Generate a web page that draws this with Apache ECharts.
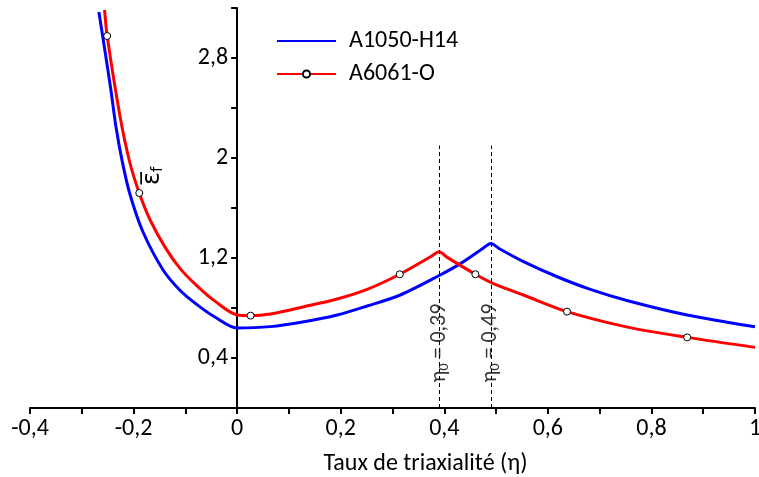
<!DOCTYPE html>
<html>
<head>
<meta charset="utf-8">
<script src="https://cdn.jsdelivr.net/npm/echarts@6/dist/echarts.min.js"></script>
<style>
  html, body { margin: 0; padding: 0; background: #fff; }
  #chart { width: 759px; height: 477px; }
</style>
</head>
<body>
<div id="chart"></div>
<script>
// A1050-H14 (blue)
var blueX = [-0.267, -0.255, -0.244, -0.234, -0.222, -0.207, -0.182, -0.143, -0.11, -0.077, -0.043, 0,
             0.064, 0.129, 0.193, 0.251, 0.315, 0.392, 0.431, 0.475, 0.49, 0.505,
             0.553, 0.618, 0.682, 0.756, 0.869, 1.0];
var blueY = [3.168, 2.85, 2.55, 2.25, 1.975, 1.71, 1.41, 1.104, 0.94, 0.825, 0.728, 0.64,
             0.651, 0.69, 0.744, 0.816, 0.904, 1.064, 1.155, 1.278, 1.317, 1.278,
             1.171, 1.05, 0.949, 0.856, 0.744, 0.65];
// A6061-O (red)
var redX = [-0.256, -0.251, -0.226, -0.207, -0.189, -0.168, -0.139, -0.11, -0.077, -0.043, 0,
            0.026, 0.064, 0.129, 0.193, 0.251, 0.314, 0.375, 0.39, 0.405,
            0.46, 0.495, 0.553, 0.637, 0.756, 0.869, 1.0];
var redY = [3.184, 2.976, 2.33, 1.96, 1.72, 1.504, 1.285, 1.115, 0.975, 0.855, 0.744,
            0.739, 0.752, 0.81, 0.872, 0.949, 1.07, 1.214, 1.25, 1.207,
            1.07, 0.995, 0.904, 0.771, 0.645, 0.565, 0.485];
// indices of red points drawn with a circle marker
var redMarkers = [1, 4, 11, 16, 20, 23, 25];

var eta0 = [0.39, 0.49];
var eta0Text = ['0,39', '0,49'];

var xMin = -0.4, xMax = 1;
var gridLeft = 30, gridRight = 4, chartW = 759;

var font = 'Carlito, Lato, sans-serif';

function fmt(v) {
    return String(Math.round(v * 10) / 10).replace('.', ',');
}

var blueData = blueX.map(function (x, i) { return [x, blueY[i]]; });
var redData = redX.map(function (x, i) {
    var item = { value: [x, redY[i]] };
    if (redMarkers.indexOf(i) < 0) item.symbol = 'none';
    return item;
});

// shift the y axis (line, ticks and labels) to x = 0
var yOffset = -(chartW - gridLeft - gridRight) * (0 - xMin) / (xMax - xMin);

var myChart = echarts.init(document.getElementById('chart'));
option = {
    animation: false,
    textStyle: { fontFamily: font },
    grid: { left: gridLeft, right: gridRight, top: 8, bottom: 69, outerBoundsMode: 'none' },
    legend: {
        orient: 'vertical',
        left: 271,
        top: 24,
        itemWidth: 59,
        itemHeight: 9,
        itemGap: 9,
        textStyle: { fontSize: 24, lineHeight: 24, color: '#000', fontFamily: font, padding: [0, 0, 0, 8] },
        data: [
            { name: 'A1050-H14', itemStyle: { color: 'rgba(0,0,0,0)', borderWidth: 0 } },
            'A6061-O'
        ]
    },
    xAxis: {
        type: 'value',
        min: xMin,
        max: xMax,
        interval: 0.1,
        name: 'Taux de triaxialité (η)',
        nameLocation: 'middle',
        nameGap: 44,
        nameTextStyle: { fontSize: 24, color: '#000', padding: [0, 0, 0, 66] },
        splitLine: { show: false },
        axisLine: { onZero: true, lineStyle: { color: '#000', width: 2 } },
        axisTick: { show: true, length: 6, lineStyle: { color: '#000', width: 2 } },
        axisLabel: {
            fontSize: 24, color: '#000', margin: 9,
            formatter: function (v) {
                var k = Math.round(v * 10);
                return k % 2 === 0 ? fmt(v) : '';
            }
        }
    },
    yAxis: {
        type: 'value',
        min: 0,
        max: 3.2,
        interval: 0.4,
        offset: yOffset,
        splitLine: { show: false },
        axisLine: { onZero: false, lineStyle: { color: '#000', width: 2 } },
        axisTick: { show: true, length: 6, lineStyle: { color: '#000', width: 2 } },
        axisLabel: {
            fontSize: 24, color: '#000', margin: 9,
            formatter: function (v) {
                var k = Math.round(v / 0.4);
                return k % 2 === 1 ? fmt(v) : '';
            }
        }
    },
    graphic: [{
        type: 'text',
        x: 139,
        y: 185,
        rotation: Math.PI / 2,
        style: {
            text: '{e|ε\u0305}{f|f}',
            rich: {
                e: { fontSize: 24, fill: '#000', fontFamily: 'DejaVu Sans' },
                f: { fontSize: 15, fill: '#000', fontFamily: 'DejaVu Sans', padding: [12, 0, 0, 0] }
            }
        }
    }],
    series: [{
            name: 'A1050-H14',
            type: 'line',
            data: blueData,
            symbol: 'none',
            smooth: 0.3,
            color: '#0000FF',
            lineStyle: { color: '#0000FF', width: 3 },
            markLine: {
                silent: true,
                symbol: 'none',
                label: { show: false },
                lineStyle: { color: '#000', type: [4, 3], width: 1 },
                data: eta0.map(function (x) {
                    return [{ coord: [x, 0] }, { coord: [x, 2.1] }];
                })
            }
        },
        {
            name: 'A6061-O',
            type: 'line',
            data: redData,
            symbol: 'circle',
            symbolSize: 7,
            showSymbol: true,
            showAllSymbol: true,
            smooth: 0.3,
            color: '#FF0000',
            itemStyle: { color: '#fff', borderColor: '#000', borderWidth: 1 },
            lineStyle: { color: '#FF0000', width: 3 }
        },
        {
            name: 'eta0',
            type: 'scatter',
            symbolSize: 0,
            silent: true,
            data: eta0.map(function (x) { return [x, 0.52]; }),
            label: {
                show: true,
                position: 'inside',
                rotate: 90,
                color: '#000',
                backgroundColor: '#fff',
                padding: [3, 0, 3, 0],
                formatter: function (p) {
                    return '{n|η}{s|0}{n| = ' + eta0Text[p.dataIndex] + '}';
                },
                rich: {
                    n: { fontSize: 22, color: '#000', fontFamily: font },
                    s: { fontSize: 14, color: '#000', fontFamily: font, padding: [10, 0, 0, 0] }
                }
            }
        }
    ]
};
myChart.setOption(option);
</script>
</body>
</html>
